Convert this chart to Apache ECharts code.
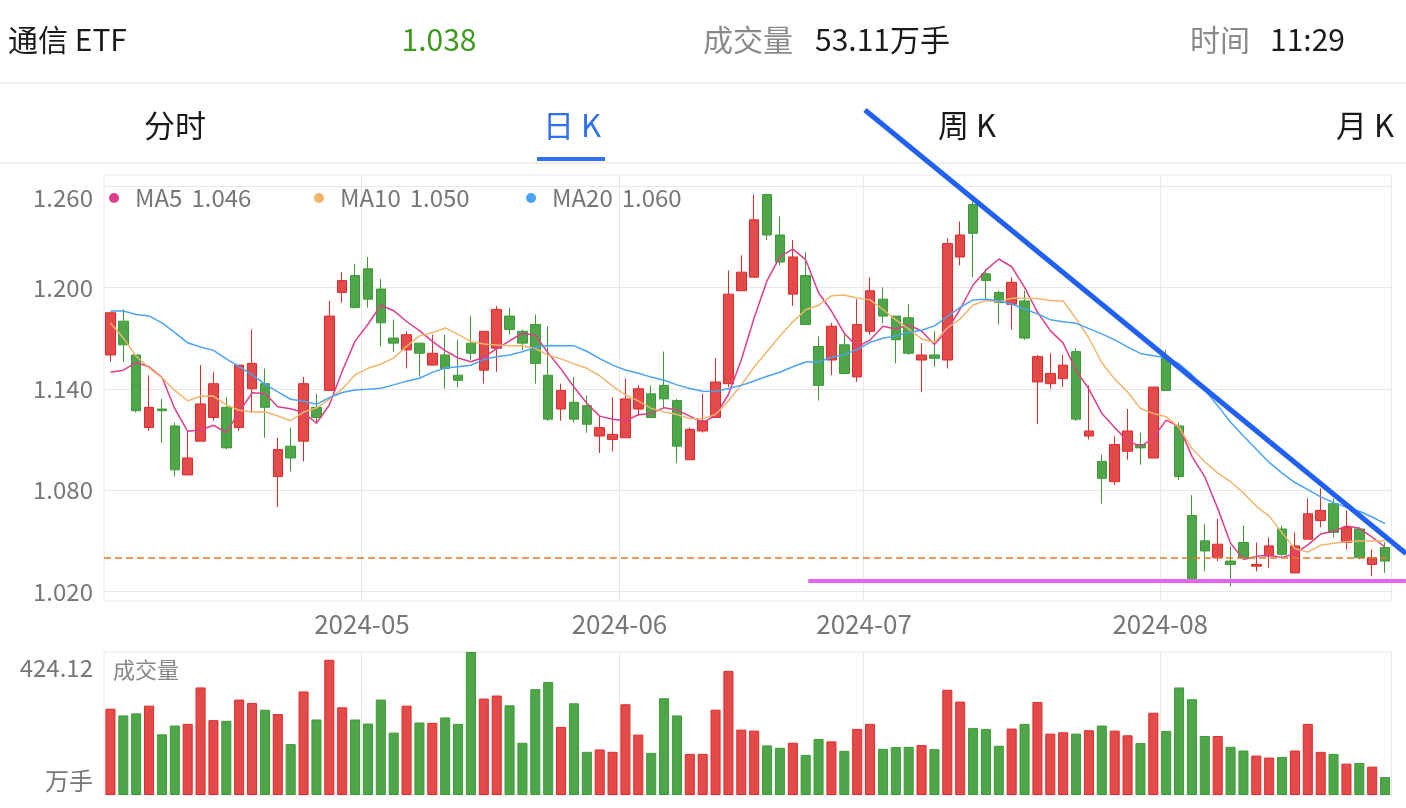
<!DOCTYPE html>
<html><head><meta charset="utf-8">
<script src="https://cdn.jsdelivr.net/npm/echarts@6/dist/echarts.min.js"></script>
<style>html,body{margin:0;padding:0;background:#fff}#c{width:1406px;height:808px}</style>
</head><body><div id="c"></div>
<script>
// ---- trading days (categories) ----
const aprDays = [1,2,3,8,9,10,11,12,15,16,17,18,19,22,23,24,25,26,29,30];
const mayDays = [6,7,8,9,10,13,14,15,16,17,20,21,22,23,24,27,28,29,30,31];
const junDays = [3,4,5,6,7,11,12,13,14,17,18,19,20,21,24,25,26,27,28];
const julDays = [1,2,3,4,5,8,9,10,11,12,15,16,17,18,19,22,23,24,25,26,29,30,31];
const augDays = [1,2,5,6,7,8,9,12,13,14,15,16,19,20,21,22,23,26];

// ---- OHLC ----
const opens = [1.160,1.180,1.160,1.117,1.128,1.118,1.089,1.109,1.123,1.129, 1.117,1.140,1.143,1.088,1.106,1.109,1.129,1.139,1.197,1.207,
 1.211,1.199,1.170,1.163,1.167,1.154,1.160,1.148,1.167,1.151, 1.164,1.183,1.174,1.178,1.148,1.128,1.132,1.130,1.112,1.110,
 1.111,1.128,1.137,1.142,1.133,1.098,1.115,1.123,1.143,1.198, 1.206,1.255,1.231,1.196,1.207,1.165,1.157,1.166,1.147,1.174,
 1.193,1.183,1.182,1.157,1.160,1.157,1.218,1.249,1.208,1.197, 1.190,1.192,1.144,1.143,1.146,1.162,1.112,1.097,1.085,1.103,
 1.107,1.099,1.158,1.118,1.065,1.050,1.040,1.038,1.049,1.035, 1.041,1.057,1.031,1.051,1.062,1.072,1.049,1.057,1.036,1.046];
const closes = [1.185,1.166,1.127,1.129,1.127,1.092,1.099,1.131,1.143,1.105, 1.154,1.155,1.129,1.104,1.099,1.143,1.123,1.183,1.204,1.188,
 1.193,1.179,1.167,1.172,1.161,1.161,1.152,1.145,1.161,1.174, 1.187,1.175,1.167,1.155,1.122,1.139,1.122,1.119,1.117,1.113,
 1.134,1.140,1.123,1.134,1.106,1.116,1.121,1.144,1.196,1.209, 1.240,1.231,1.215,1.218,1.178,1.142,1.177,1.149,1.178,1.198,
 1.183,1.169,1.161,1.160,1.158,1.226,1.231,1.232,1.204,1.191, 1.203,1.170,1.159,1.149,1.154,1.122,1.115,1.087,1.107,1.115,
 1.105,1.141,1.139,1.088,1.027,1.044,1.048,1.036,1.040,1.036, 1.047,1.042,1.047,1.066,1.068,1.055,1.058,1.040,1.040,1.038];
const lows = [1.156,1.156,1.126,1.115,1.108,1.088,1.089,1.109,1.121,1.104, 1.115,1.126,1.111,1.070,1.091,1.097,1.120,1.139,1.191,1.188,
 1.188,1.165,1.162,1.152,1.147,1.154,1.140,1.141,1.157,1.143, 1.150,1.172,1.163,1.143,1.121,1.121,1.120,1.114,1.102,1.103,
 1.111,1.124,1.123,1.129,1.096,1.098,1.114,1.123,1.141,1.198, 1.206,1.228,1.213,1.189,1.178,1.133,1.148,1.149,1.144,1.172,
 1.179,1.155,1.160,1.138,1.153,1.152,1.213,1.206,1.193,1.178, 1.175,1.169,1.119,1.140,1.141,1.121,1.110,1.072,1.083,1.098,
 1.095,1.099,1.139,1.086,1.026,1.032,1.038,1.023,1.039,1.032, 1.034,1.041,1.031,1.051,1.058,1.052,1.045,1.039,1.029,1.031];
const highs = [1.185,1.187,1.160,1.148,1.134,1.120,1.115,1.154,1.150,1.135, 1.154,1.175,1.152,1.111,1.117,1.147,1.137,1.192,1.209,1.214,
 1.218,1.205,1.181,1.174,1.167,1.172,1.172,1.169,1.183,1.174, 1.189,1.188,1.175,1.184,1.177,1.143,1.147,1.136,1.124,1.135,
 1.146,1.142,1.142,1.162,1.134,1.117,1.137,1.158,1.210,1.219, 1.255,1.255,1.242,1.228,1.221,1.171,1.179,1.173,1.193,1.206,
 1.200,1.183,1.190,1.167,1.174,1.229,1.239,1.251,1.211,1.198, 1.206,1.198,1.160,1.161,1.160,1.164,1.142,1.101,1.112,1.128,
 1.114,1.141,1.163,1.120,1.077,1.060,1.063,1.047,1.059,1.049, 1.052,1.059,1.055,1.075,1.081,1.075,1.068,1.058,1.045,1.049];
// closes of the 19 sessions before the first visible one (needed for the moving averages)
const prevCloses = [1.166,1.165,1.149,1.207,1.210,1.217,1.181,1.183,1.205,1.247,1.254,1.236,1.197,1.186,1.167,1.160,1.104,1.142,1.158];

// ---- volume (万手) ----
const volumes = [256,236,242,265,180,206,211,319,222,220, 283,273,253,240,151,307,224,401,260,224,
 212,283,185,265,215,214,230,211,424.12,286, 295,266,155,314,335,202,272,128,135,128,
 269,179,125,287,236,122,122,253,368,194, 191,147,140,155,119,166,159,131,196,211,
 137,142,143,148,136,312,277,199,196,146, 197,211,276,182,186,182,192,206,191,177,
 154,244,190,319,284,175,175,143,132,117, 111,113,132,211,128,122,93,95,84,53.11];

// ---- y ticks ----
const priceTicks = [1.02, 1.08, 1.14, 1.20, 1.26];
const priceMin = 1.01438, priceMax = 1.26651;
const volMax = 424.12;

// ---- hand-drawn annotations (in data units: session index, price) ----
const trendLine = [[58.6, 1.305], [100.62, 1.0425]];
const supportLine = [[54.2, 1.0262], [100.62, 1.0262]];

// ---- header texts ----
const stockName = '通信 ETF';
const timeText = '11:29';

const pad = d => (d < 10 ? '0' : '') + d;
const dates = [].concat(
  aprDays.map(d => '2024-04-' + pad(d)), mayDays.map(d => '2024-05-' + pad(d)),
  junDays.map(d => '2024-06-' + pad(d)), julDays.map(d => '2024-07-' + pad(d)),
  augDays.map(d => '2024-08-' + pad(d)));
const monthStart = new Set();
dates.forEach((d, i) => { if (i > 0 && d.slice(5, 7) !== dates[i - 1].slice(5, 7)) monthStart.add(i); });

const kData = opens.map((o, i) => [o, closes[i], lows[i], highs[i]]);
function ma(n) {
  const all = prevCloses.concat(closes);
  return closes.map((c, i) => {
    const end = prevCloses.length + i; let s = 0;
    for (let k = end - n + 1; k <= end; k++) s += all[k];
    return +(s / n).toFixed(4);
  });
}
const ma5 = ma(5), ma10 = ma(10), ma20 = ma(20);
const lastOf = { MA5: ma5[ma5.length - 1], MA10: ma10[ma10.length - 1], MA20: ma20[ma20.length - 1] };

// ---- layout ----
const W = 1406, H = 808;
const G = { left: 104, right: 14.5, top: 175, bottom: 207 };
const N = dates.length;
const unitX = (W - G.left - G.right) / N;
const pxPerPrice = (H - G.top - G.bottom) / (priceMax - priceMin);
// full-canvas overlay axes with the same scale as the main K grid (annotations may leave the plot area)
const ovX = [-0.5 - G.left / unitX, N - 0.5 + G.right / unitX];
const ovY = [priceMin - G.bottom / pxPerPrice, priceMax + G.top / pxPerPrice];

const UP = '#e34a4a', UPB = '#e12b2b', DN = '#4fa64a', DNB = '#3d9b35';
const FONT = '"Noto Sans CJK SC","Noto Sans",sans-serif';
const GRID_C = '#e8e8e8';
const LBL = { color: '#777', fontSize: 24, fontFamily: FONT };

const chart = echarts.init(document.getElementById('c'));
const legendBase = (name, left) => ({
  data: [name], left: left, top: 181, itemWidth: 10, itemHeight: 10, icon: 'circle',
  selectedMode: false,
  textStyle: Object.assign({}, LBL, { rich: { n: Object.assign({ padding: [0, 0, 0, 11] }, LBL), v: Object.assign({ padding: [0, 0, 0, 9] }, LBL) } }),
  formatter: n => '{n|' + n + '}{v|' + lastOf[n].toFixed(3) + '}'
});

function txt(text, x, y, size, color, align) {
  return { type: 'text', x: x, y: y, silent: true,
    style: { text: text, fill: color, fontSize: size, fontFamily: FONT, align: align || 'left', verticalAlign: 'middle' } };
}

chart.setOption({
  animation: false,
  backgroundColor: '#fff',
  legend: [legendBase('MA5', 104), legendBase('MA10', 309), legendBase('MA20', 521)],
  grid: [
    { left: G.left, right: G.right, top: G.top, bottom: G.bottom, show: true, borderColor: GRID_C, borderWidth: 1 },
    { left: G.left, right: G.right, top: 652, bottom: 13, show: true, borderColor: GRID_C, borderWidth: 1 },
    { left: 0, right: 0, top: 0, bottom: 0, show: false }
  ],
  xAxis: [
    { type: 'category', gridIndex: 0, data: dates, boundaryGap: true,
      axisLine: { show: false }, axisTick: { show: false },
      axisLabel: Object.assign({ interval: (i) => monthStart.has(i), formatter: v => '{a|' + v.slice(0, 7) + '}',
        margin: 10, rich: { a: Object.assign({ padding: [0, 12, 0, 0] }, LBL, { fontSize: 26 }) } }, LBL, { fontSize: 26 }),
      splitLine: { show: true, interval: (i) => monthStart.has(i), lineStyle: { color: GRID_C, width: 1 } } },
    { type: 'category', gridIndex: 1, data: dates, boundaryGap: true,
      axisLine: { show: false }, axisTick: { show: false }, axisLabel: { show: false },
      splitLine: { show: true, interval: (i) => monthStart.has(i), lineStyle: { color: GRID_C, width: 1 } } },
    { type: 'value', gridIndex: 2, min: ovX[0], max: ovX[1], show: false }
  ],
  yAxis: [
    { type: 'value', gridIndex: 0, min: priceMin, max: priceMax,
      axisLine: { show: false }, axisTick: { show: false, customValues: priceTicks },
      axisLabel: Object.assign({ customValues: priceTicks, margin: 11,
        formatter: v => Math.abs(v - priceTicks[priceTicks.length - 1]) < 1e-6 ? '{t|' + v.toFixed(3) + '}' : v.toFixed(3),
        rich: { t: Object.assign({ padding: [24, 0, 0, 0] }, LBL) } }, LBL),
      splitLine: { show: true, lineStyle: { color: GRID_C, width: 1 } } },
    { type: 'value', gridIndex: 1, min: 0, max: volMax, interval: volMax,
      axisLine: { show: false }, axisTick: { show: false }, splitLine: { show: false },
      axisLabel: Object.assign({ margin: 11,
        formatter: v => v === 0 ? '{b|万手}' : '{t|' + v.toFixed(2) + '}',
        rich: { t: Object.assign({ padding: [32, 0, 0, 0] }, LBL), b: Object.assign({ padding: [0, 0, 28, 0] }, LBL) } }, LBL) },
    { type: 'value', gridIndex: 2, min: ovY[0], max: ovY[1], show: false }
  ],
  series: [
    { type: 'candlestick', name: 'K', xAxisIndex: 0, yAxisIndex: 0, data: kData, barWidth: '78%',
      itemStyle: { color: UP, color0: DN, borderColor: UPB, borderColor0: DNB, borderWidth: 1 },
      markLine: { silent: true, symbol: 'none', label: { show: false },
        lineStyle: { color: '#e8782a', type: [7, 4], width: 1.5 },
        data: [{ yAxis: closes[closes.length - 1] }] } },
    { type: 'line', name: 'MA5', xAxisIndex: 0, yAxisIndex: 0, data: ma5, showSymbol: false, symbol: 'circle',
      itemStyle: { color: '#df3d8d' }, lineStyle: { color: '#df3d8d', width: 1.5 } },
    { type: 'line', name: 'MA10', xAxisIndex: 0, yAxisIndex: 0, data: ma10, showSymbol: false, symbol: 'circle',
      itemStyle: { color: '#f2b56b' }, lineStyle: { color: '#f2b56b', width: 1.5 } },
    { type: 'line', name: 'MA20', xAxisIndex: 0, yAxisIndex: 0, data: ma20, showSymbol: false, symbol: 'circle',
      itemStyle: { color: '#4ba3f5' }, lineStyle: { color: '#4ba3f5', width: 1.5 } },
    { type: 'bar', name: 'VOL', xAxisIndex: 1, yAxisIndex: 1, barWidth: '78%',
      data: volumes.map((v, i) => ({ value: v, itemStyle: closes[i] >= opens[i]
        ? { color: UP, borderColor: UPB, borderWidth: 1 } : { color: DN, borderColor: DNB, borderWidth: 1 } })) },
    { type: 'line', name: 'trend', xAxisIndex: 2, yAxisIndex: 2, data: trendLine, clip: false, showSymbol: false,
      symbol: 'none', z: 5, silent: true, lineStyle: { color: '#2160f0', width: 5 } },
    { type: 'line', name: 'support', xAxisIndex: 2, yAxisIndex: 2, data: supportLine, clip: false, showSymbol: false,
      symbol: 'none', z: 5, silent: true, lineStyle: { color: '#e563f0', width: 4 } }
  ],
  graphic: [
    txt(stockName, 8, 40, 30, '#1a1a1a'),
    txt(closes[closes.length - 1].toFixed(3), 439, 40, 30, '#3d9a1f', 'center'),
    txt('成交量', 703, 40, 30, '#8a8a8a'),
    txt(volumes[volumes.length - 1].toFixed(2) + '万手', 815, 40, 30, '#1a1a1a'),
    txt('时间', 1190, 40, 30, '#8a8a8a'),
    txt(timeText, 1270, 40, 30, '#1a1a1a'),
    { type: 'rect', shape: { x: 0, y: 82, width: W, height: 2 }, style: { fill: '#eeeeee' }, silent: true },
    txt('分时', 175, 125, 31, '#1a1a1a', 'center'),
    txt('日 K', 572, 125, 31, '#2f6ff0', 'center'),
    txt('周 K', 967, 125, 31, '#1a1a1a', 'center'),
    txt('月 K', 1365, 125, 31, '#1a1a1a', 'center'),
    { type: 'rect', shape: { x: 537, y: 157, width: 68, height: 4 }, style: { fill: '#2f6ff0' }, silent: true },
    { type: 'rect', shape: { x: 0, y: 162, width: W, height: 2 }, style: { fill: '#eeeeee' }, silent: true },
    txt('成交量', 113, 670, 22, '#888888')
  ]
});
</script>
</body></html>
